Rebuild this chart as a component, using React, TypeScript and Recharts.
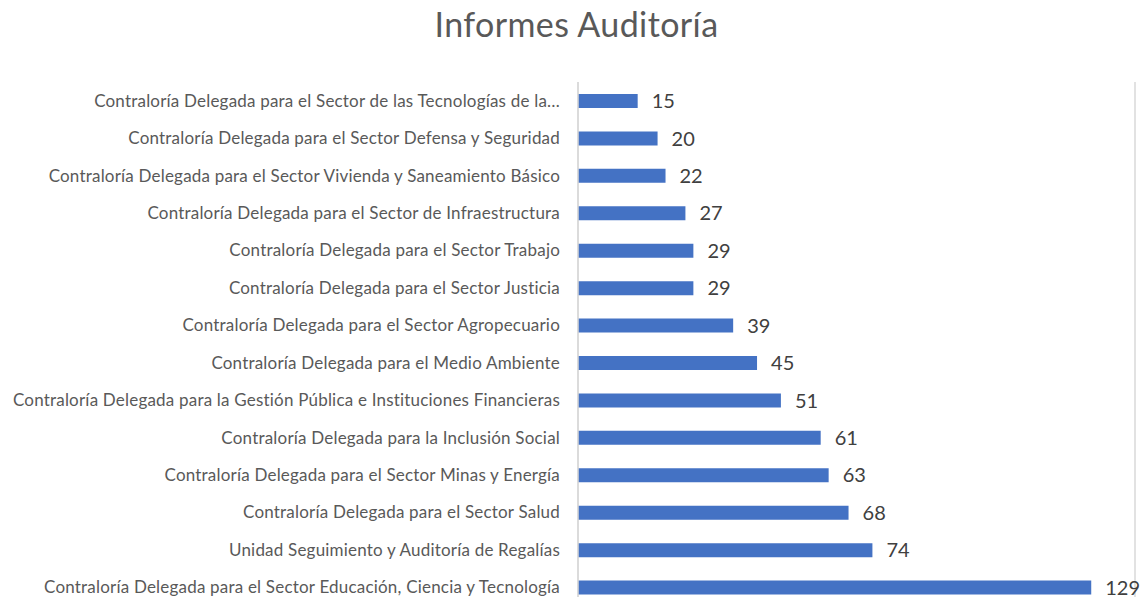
import React from "react";
import { BarChart, Bar, XAxis, YAxis, CartesianGrid, LabelList } from "recharts";

const categories = [
  "Contraloría Delegada para el Sector de las Tecnologías de la…",
  "Contraloría Delegada para el Sector Defensa y Seguridad",
  "Contraloría Delegada para el Sector Vivienda y Saneamiento Básico",
  "Contraloría Delegada para el Sector de Infraestructura",
  "Contraloría Delegada para el Sector Trabajo",
  "Contraloría Delegada para el Sector Justicia",
  "Contraloría Delegada para el Sector Agropecuario",
  "Contraloría Delegada para el Medio Ambiente",
  "Contraloría Delegada para la Gestión Pública e Instituciones Financieras",
  "Contraloría Delegada para la Inclusión Social",
  "Contraloría Delegada para el Sector Minas y Energía",
  "Contraloría Delegada para el Sector Salud",
  "Unidad Seguimiento y Auditoría de Regalías",
  "Contraloría Delegada para el Sector Educación, Ciencia y Tecnología",
];
const values = [15, 20, 22, 27, 29, 29, 39, 45, 51, 61, 63, 68, 74, 129];
const xTicks = [0, 20, 40, 60, 80, 100, 120, 140];
const title = "Informes Auditoría";

const data = categories.map((name, i) => ({ name, value: values[i] }));

const FONT = "Lato, 'Open Sans', sans-serif";

export default function App() {
  return (
    <div
      style={{
        position: "absolute",
        left: 0,
        top: 0,
        width: 1144,
        height: 597,
        overflow: "hidden",
        background: "#ffffff",
        fontFamily: FONT,
      }}
    >
      <div
        style={{
          position: "absolute",
          left: 0,
          top: 0,
          width: 1153,
          textAlign: "center",
          fontSize: 34,
          color: "#595959",
          fontFamily: FONT,
          lineHeight: "48px",
          letterSpacing: 0.4,
        }}
      >
        {title}
      </div>
      <BarChart
        width={1144}
        height={640}
        data={data}
        layout="vertical"
        margin={{ top: 82, right: 9, bottom: 4, left: 0 }}
      >
        <CartesianGrid horizontal={false} stroke="#D9D9D9" strokeWidth={1.5} />
        <XAxis
          type="number"
          domain={[0, 140]}
          ticks={xTicks}
          axisLine={false}
          tickLine={false}
          tick={false}
          height={30}
        />
        <YAxis
          type="category"
          dataKey="name"
          width={578}
          tickSize={0}
          tickMargin={18}
          axisLine={{ stroke: "#D9D9D9", strokeWidth: 1.5 }}
          tickLine={false}
          interval={0}
          tick={{ fill: "#595959", fontSize: 17, fontFamily: FONT, letterSpacing: 0.2 }}
        />
        <Bar dataKey="value" fill="#4472C4" barSize={14} isAnimationActive={false}>
          <LabelList
            dataKey="value"
            position="right"
            offset={14}
            fill="#404040"
            fontSize={20}
            fontFamily={FONT}
          />
        </Bar>
      </BarChart>
    </div>
  );
}
